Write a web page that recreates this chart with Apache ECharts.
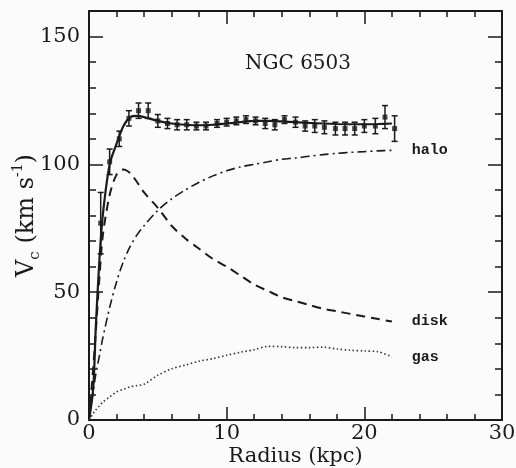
<!DOCTYPE html>
<html>
<head>
<meta charset="utf-8">
<script src="https://cdn.jsdelivr.net/npm/echarts@6/dist/echarts.min.js"></script>
<style>
  html, body { margin: 0; padding: 0; background: #fbfbfb; }
  #chart { width: 516px; height: 468px; }
</style>
</head>
<body>
<div id="chart"></div>
<script>
// observed rotation curve
const obsR = [0.85, 1.5, 2.2, 2.9, 3.6, 4.3, 5.0, 5.7, 6.4, 7.1, 7.8, 8.5, 9.3, 10.0, 10.7, 11.4, 12.1, 12.8, 13.5, 14.2, 15.0, 15.7, 16.4, 17.1, 17.9, 18.6, 19.3, 20.0, 20.8, 21.5, 22.2];
const obsV = [77, 101, 110, 118, 121, 121, 117, 116, 115.5, 115.5, 115, 115, 116, 116.5, 117, 117.5, 117, 116, 115.5, 117.5, 116.5, 115, 115, 114.5, 114, 114, 114, 115, 115, 118.5, 114];
const obsErr = [12, 5, 3, 3, 3, 3, 2.5, 2, 2, 2, 1.5, 1.5, 1.5, 1.5, 1.5, 1.5, 1.5, 2, 2, 1.5, 2, 2, 2.5, 2.5, 2.5, 2.5, 2.5, 2.5, 3, 4.5, 5];

// model components
const modelR = [0, 0.3, 0.5, 0.75, 1, 1.5, 2, 2.5, 3, 3.5, 4, 5, 6, 7, 8, 9, 10, 11, 12, 13, 14, 15, 16, 17, 18, 19, 20, 21, 22];
const total  = [0, 12, 37, 62, 80, 100, 108, 115, 118.5, 119, 118.5, 117, 116, 115.5, 115.3, 115.5, 116, 116.5, 117, 117, 116.8, 116.5, 116.2, 116, 115.8, 115.7, 115.7, 115.8, 116];
const disk   = [0, 20, 35, 55, 72, 88, 96, 98, 96.5, 93, 89, 83, 76, 71, 67, 63, 60, 56.5, 53, 50.5, 48, 46.5, 45, 43.5, 42.5, 41.5, 40.5, 39.5, 38.5];
const halo   = [0, 11, 18, 25, 32, 44, 54, 62, 68, 72.5, 76, 82, 86.5, 90, 93, 95.5, 97.5, 99, 100, 101, 102, 102.5, 103.2, 103.8, 104.3, 104.7, 105, 105.3, 105.5];
const gas    = [0, 2.5, 4, 5.5, 7, 9, 11, 12, 13, 13.5, 14, 17.5, 20, 21.5, 23, 24, 25.3, 26.5, 27.5, 28.8, 28.7, 28.3, 28.3, 28.5, 27.8, 27.3, 27, 26.7, 24.7];

const yTicks = [0, 50, 100, 150];

const serif = 'DejaVu Serif';
const ink = '#1a1a1a';

function pairs(xs, ys) {
  return xs.map((x, i) => [x, ys[i]]);
}

const chart = echarts.init(document.getElementById('chart'));

const lineBase = {
  type: 'line',
  showSymbol: false,
  smooth: 0.3,
  xAxisIndex: 0,
  yAxisIndex: 0,
  z: 3
};

function compLabel(text) {
  return {
    show: true,
    formatter: text,
    distance: 20,
    color: ink,
    fontFamily: 'Liberation Mono',
    fontWeight: 'bold',
    fontSize: 15
  };
}

const frameLine = { onZero: false, lineStyle: { color: ink, width: 2 } };
const noLine = { show: false, onZero: false };

const option = {
  backgroundColor: '#fbfbfb',
  animation: false,
  title: {
    text: 'NGC 6503',
    left: 240,
    top: 49,
    textStyle: { fontFamily: serif, fontWeight: 'normal', fontSize: 20, color: ink }
  },
  grid: { left: 89, right: 14, top: 11, bottom: 48, outerBoundsMode: 'none', containLabel: false },
  xAxis: [
    {
      type: 'value', position: 'bottom', min: 0, max: 30, interval: 10,
      name: 'Radius (kpc)', nameLocation: 'middle', nameGap: 26, nameMoveOverlap: false,
      nameTextStyle: { fontFamily: serif, fontSize: 21, color: ink },
      axisLine: frameLine,
      axisTick: { inside: true, length: 13, lineStyle: { color: ink, width: 1.5 } },
      minorTick: { show: true, splitNumber: 5, length: 6, lineStyle: { color: ink, width: 1.5 } },
      axisLabel: { fontFamily: serif, fontSize: 21, color: ink, margin: 3 },
      splitLine: { show: false }
    },
    {
      type: 'value', position: 'top', min: 0, max: 30, interval: 10,
      axisLine: frameLine,
      axisTick: { inside: true, length: 13, lineStyle: { color: ink, width: 1.5 } },
      minorTick: { show: true, splitNumber: 5, length: 6, lineStyle: { color: ink, width: 1.5 } },
      axisLabel: { show: false },
      splitLine: { show: false }
    }
  ],
  yAxis: [
    {
      type: 'value', position: 'left', min: 0, max: 160, interval: 10,
      name: '{v|V}{sub|c}{v| (km s}{sup|-1}{v|)}',
      nameLocation: 'middle', nameGap: 46, nameRotate: 90, nameMoveOverlap: false,
      nameTextStyle: {
        color: ink,
        rich: {
          v: { fontFamily: serif, fontSize: 24, color: ink, lineHeight: 32 },
          sub: { fontFamily: serif, fontSize: 15, color: ink, lineHeight: 15, verticalAlign: 'bottom' },
          sup: { fontFamily: serif, fontSize: 14, color: ink, lineHeight: 15, verticalAlign: 'top' }
        }
      },
      axisLine: frameLine,
      axisTick: { inside: true, length: 14, customValues: yTicks, lineStyle: { color: ink, width: 1.5 } },
      axisLabel: { customValues: yTicks, fontFamily: serif, fontSize: 21, color: ink, margin: 9 },
      splitLine: { show: false }
    },
    {
      type: 'value', position: 'right', min: 0, max: 160, interval: 10,
      axisLine: frameLine,
      axisTick: { inside: true, length: 14, customValues: yTicks, lineStyle: { color: ink, width: 1.5 } },
      axisLabel: { show: false },
      splitLine: { show: false }
    },
    {
      type: 'value', position: 'left', min: 0, max: 160, interval: 10,
      axisLine: noLine,
      axisTick: { inside: true, length: 7, lineStyle: { color: ink, width: 1.5 } },
      axisLabel: { show: false },
      splitLine: { show: false }
    },
    {
      type: 'value', position: 'right', min: 0, max: 160, interval: 10,
      axisLine: noLine,
      axisTick: { inside: true, length: 7, lineStyle: { color: ink, width: 1.5 } },
      axisLabel: { show: false },
      splitLine: { show: false }
    }
  ],
  series: [
    Object.assign({}, lineBase, {
      name: 'total',
      data: pairs(modelR, total),
      lineStyle: { color: ink, width: 2.2 }
    }),
    Object.assign({}, lineBase, {
      name: 'disk',
      data: pairs(modelR, disk),
      lineStyle: { color: ink, width: 2, type: [9, 6] },
      endLabel: compLabel('disk')
    }),
    Object.assign({}, lineBase, {
      name: 'halo',
      data: pairs(modelR, halo),
      lineStyle: { color: ink, width: 1.6, type: [9, 4, 2, 4] },
      endLabel: compLabel('halo')
    }),
    Object.assign({}, lineBase, {
      name: 'gas',
      data: pairs(modelR, gas),
      lineStyle: { color: '#333', width: 1.6, type: [1.5, 2.5] },
      endLabel: compLabel('gas')
    }),
    {
      name: 'errors',
      type: 'custom',
      xAxisIndex: 0,
      yAxisIndex: 0,
      z: 4,
      data: obsR.map((r, i) => [r, obsV[i] - obsErr[i], obsV[i] + obsErr[i]]),
      renderItem: function (params, api) {
        const lo = api.coord([api.value(0), api.value(1)]);
        const hi = api.coord([api.value(0), api.value(2)]);
        const w = 3;
        const st = { stroke: ink, lineWidth: 1.5 };
        return {
          type: 'group',
          children: [
            { type: 'line', shape: { x1: lo[0], y1: lo[1], x2: hi[0], y2: hi[1] }, style: st },
            { type: 'line', shape: { x1: lo[0] - w, y1: lo[1], x2: lo[0] + w, y2: lo[1] }, style: st },
            { type: 'line', shape: { x1: hi[0] - w, y1: hi[1], x2: hi[0] + w, y2: hi[1] }, style: st }
          ]
        };
      }
    },
    {
      name: 'observed',
      type: 'scatter',
      xAxisIndex: 0,
      yAxisIndex: 0,
      z: 5,
      symbol: 'rect',
      symbolSize: 5,
      itemStyle: { color: ink },
      data: pairs(obsR, obsV)
    }
  ]
};

chart.setOption(option);
</script>
</body>
</html>
